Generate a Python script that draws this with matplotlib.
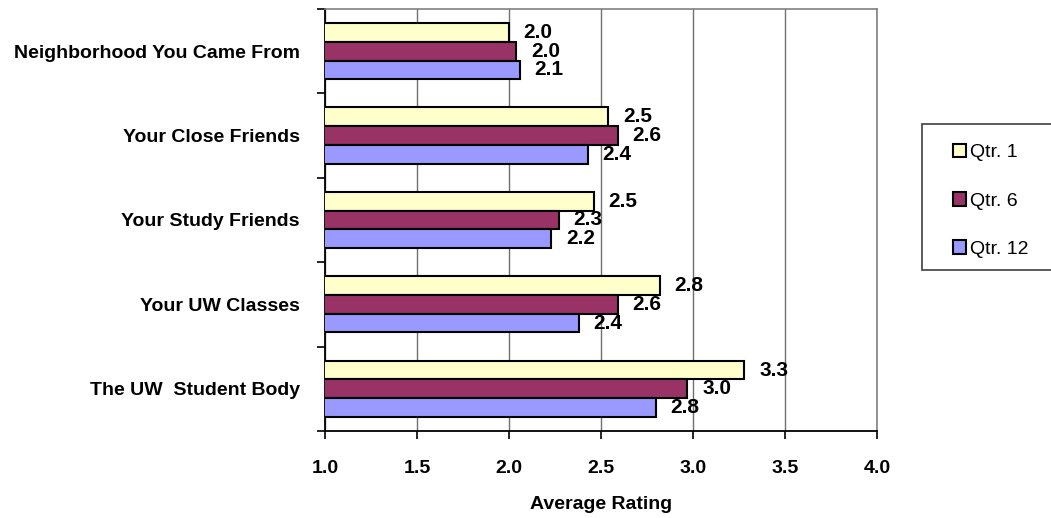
import matplotlib
matplotlib.use("Agg")
import matplotlib.pyplot as plt
import numpy as np
from matplotlib.patches import Patch, Rectangle

plt.rcParams["font.family"] = ["Liberation Sans", "DejaVu Sans"]

categories = [
    "Neighborhood You Came From",
    "Your Close Friends",
    "Your Study Friends",
    "Your UW Classes",
    "The UW  Student Body",
]
series_names = ["Qtr. 1", "Qtr. 6", "Qtr. 12"]
qtr1 = [2.00, 2.54, 2.46, 2.82, 3.28]
qtr6 = [2.04, 2.59, 2.27, 2.59, 2.97]
qtr12 = [2.06, 2.43, 2.23, 2.38, 2.80]
x_ticks = [1.0, 1.5, 2.0, 2.5, 3.0, 3.5, 4.0]

colors = ["#FFFFCC", "#993366", "#9999FF"]

fig = plt.figure(figsize=(10.51, 5.18), dpi=100)
ax = fig.add_axes([0.3092, 0.1680, 0.5252, 0.8146])

y = np.arange(len(categories))
h = 0.222
for k, (vals, name, col) in enumerate(zip([qtr1, qtr6, qtr12], series_names, colors)):
    bars = ax.barh(y + (k - 1) * h, vals, height=h, color=col,
                   edgecolor="black", linewidth=1.5, label=name, zorder=3)
    ax.bar_label(bars, fmt="%.1f", padding=10.5, fontsize=15, fontweight="bold")

ax.set_xlim(x_ticks[0], x_ticks[-1])
ax.set_ylim(len(categories) - 0.5, -0.5)
ax.set_xticks(x_ticks)
ax.set_xticklabels([f"{t:.1f}" for t in x_ticks], fontsize=14, fontweight="bold")
ax.tick_params(axis="x", direction="out", length=6, width=1.2, pad=15)

# category boundaries get the tick marks, names sit on minor ticks
ax.set_yticks(np.arange(len(categories) + 1) - 0.5)
ax.set_yticklabels([])
ax.set_yticks(y, minor=True)
ax.set_yticklabels(categories, minor=True, fontsize=14, fontweight="bold")
ax.tick_params(axis="y", which="major", direction="out", length=6, width=1.2)
ax.tick_params(axis="y", which="minor", length=0, pad=18)

ax.grid(axis="x", color="#707070", linewidth=1)
ax.set_axisbelow(True)
for side in ["top", "right"]:
    ax.spines[side].set_color("#808080")
    ax.spines[side].set_linewidth(1.2)
for side in ["left", "bottom"]:
    ax.spines[side].set_color("black")
    ax.spines[side].set_linewidth(1.3)

ax.set_xlabel("Average Rating", fontsize=14, fontweight="bold")
ax.xaxis.set_label_coords(0.5, -0.155)

# legend box at the right edge
fig.patches.append(Rectangle((922 / 1051, 1 - 270 / 518), 130 / 1051, 146 / 518,
                             transform=fig.transFigure, facecolor="white",
                             edgecolor="#404040", linewidth=1.2))
handles = [Patch(facecolor=c, edgecolor="black", linewidth=1.5) for c in colors]
fig.legend(handles, series_names, loc="upper left",
           bbox_to_anchor=(943 / 1051, 1 - 134 / 518), frameon=False,
           fontsize=14, handlelength=0.7, handleheight=0.7,
           handletextpad=0.2, labelspacing=1.58, borderpad=0)

fig.savefig("out.png", dpi=100)
